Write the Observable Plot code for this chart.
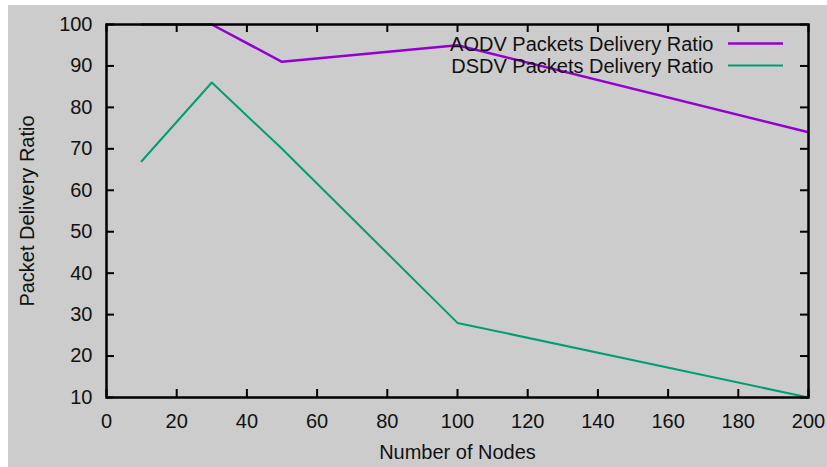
<!DOCTYPE html>
<html>
<head>
<meta charset="utf-8">
<script src="https://cdn.jsdelivr.net/npm/d3@7"></script>
<script src="https://cdn.jsdelivr.net/npm/@observablehq/plot@0.6"></script>
<style>
  html, body { margin: 0; padding: 0; background: #ffffff; }
  #wrap { position: relative; width: 827px; height: 467px; }
  #bg { position: absolute; left: 8px; top: 5px; width: 819px; height: 462px; background: #cccccc; }
  #chart { position: absolute; left: 0; top: 0; }
  #chart svg { display: block; }
</style>
</head>
<body>
<div id="wrap"><div id="bg"></div><div id="chart"></div></div>
<script>
const nodes = [10, 30, 50, 100, 200];
const aodv = [100, 100, 91, 95, 74];
const dsdv = [67, 86, 70, 28, 10];
const xTicks = [0, 20, 40, 60, 80, 100, 120, 140, 160, 180, 200];
const yTicks = [10, 20, 30, 40, 50, 60, 70, 80, 90, 100];
const seriesNames = ["AODV Packets Delivery Ratio", "DSDV Packets Delivery Ratio"];
const seriesColors = ["#9400d3", "#009e73"];
const xLabel = "Number of Nodes";
const yLabel = "Packet Delivery Ratio";

const aodvData = nodes.map((n, i) => ({x: n, y: aodv[i]}));
const dsdvData = nodes.map((n, i) => ({x: n, y: dsdv[i]}));

const W = 827, H = 467, ML = 106, MR = 19, MT = 24, MB = 70;
const PW = W - ML - MR, PH = H - MT - MB, TL = 8;

const chart = Plot.plot({
  width: W, height: H,
  marginLeft: ML, marginRight: MR, marginTop: MT, marginBottom: MB,
  x: {domain: [0, 200]},
  y: {domain: [10, 100]},
  style: {background: "transparent", fontFamily: "Liberation Sans, Arial, sans-serif", fontSize: "20px", color: "#111"},
  marks: [
    Plot.tickX(xTicks, {x: d => d, insetTop: PH - TL, stroke: "#000", strokeWidth: 2}),
    Plot.tickX(xTicks, {x: d => d, insetBottom: PH - TL, stroke: "#000", strokeWidth: 2}),
    Plot.tickY(yTicks, {y: d => d, insetRight: PW - TL, stroke: "#000", strokeWidth: 2}),
    Plot.tickY(yTicks, {y: d => d, insetLeft: PW - TL, stroke: "#000", strokeWidth: 2}),
    Plot.line(aodvData, {x: "x", y: "y", stroke: seriesColors[0], strokeWidth: 2.5}),
    Plot.line(dsdvData, {x: "x", y: "y", stroke: seriesColors[1], strokeWidth: 2}),
    Plot.frame({stroke: "#000", strokeWidth: 2.5}),
    Plot.axisX({ticks: xTicks, tickSize: 0, tickPadding: 16, label: null, fontSize: 20}),
    Plot.axisY({ticks: yTicks, tickSize: 0, tickPadding: 14, label: null, fontSize: 20}),
    Plot.text([xLabel], {text: d => d, frameAnchor: "bottom", dy: 55, textAnchor: "middle", lineAnchor: "middle", fontSize: 20, fill: "#111"}),
    Plot.text([yLabel], {text: d => d, frameAnchor: "left", dx: -79, rotate: -90, textAnchor: "middle", lineAnchor: "middle", fontSize: 20, fill: "#111"}),
    Plot.text([seriesNames[0]], {text: d => d, frameAnchor: "top-right", dx: -95, dy: 20, textAnchor: "end", lineAnchor: "middle", fontSize: 20, fill: "#111"}),
    Plot.text([seriesNames[1]], {text: d => d, frameAnchor: "top-right", dx: -95, dy: 42, textAnchor: "end", lineAnchor: "middle", fontSize: 20, fill: "#111"})
  ]
});
document.getElementById("chart").appendChild(chart);

const svg = d3.select(chart);
[[43.5, 2.5], [65.5, 2]].forEach(([yy, sw], i) => {
  svg.append("line")
    .attr("x1", 728).attr("x2", 783)
    .attr("y1", yy).attr("y2", yy)
    .attr("stroke", seriesColors[i]).attr("stroke-width", sw);
});
</script>
</body>
</html>
